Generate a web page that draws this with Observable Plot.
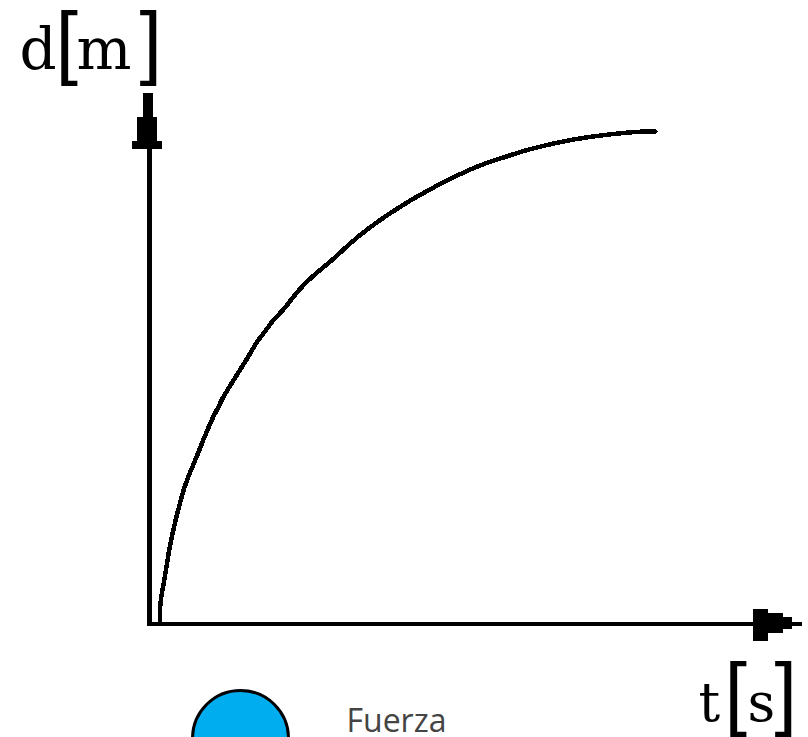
<!DOCTYPE html>
<html><head><meta charset="utf-8">
<style>html,body{margin:0;padding:0;background:#fff;overflow:hidden}svg{display:block}</style>
<script src="https://cdn.jsdelivr.net/npm/d3@7"></script>
<script src="https://cdn.jsdelivr.net/npm/@observablehq/plot@0.6"></script>
</head><body><div id="c"></div>
<script>
const curveT = [0.093,0.093,0.14,0.187,0.233,0.283,0.333,0.383,0.433,0.483,0.533,0.58,0.623,0.677,0.723,0.773,0.823,0.873,0.923,0.973,1.02,1.063,1.163,1.213,1.313,1.363,1.50,1.65,1.85,1.99,2.19,2.36,2.61,2.76,2.90,3.15,3.34,3.47,3.71,3.86,4.03,4.22,4.49,4.85,5.05];
const curveD = [0.01,0.21,0.43,0.75,0.96,1.16,1.35,1.48,1.60,1.72,1.85,1.96,2.06,2.16,2.26,2.34,2.42,2.50,2.58,2.66,2.74,2.82,2.94,3.02,3.12,3.18,3.36,3.50,3.66,3.80,3.96,4.08,4.24,4.32,4.40,4.52,4.60,4.64,4.72,4.76,4.80,4.84,4.88,4.92,4.92];
const curve = curveT.map((t,i)=>({t,d:curveD[i]}));

const upT1=[-0.07,-0.13,-0.18], upT2=[0.03,0.07,0.12], upD1=[5.06,4.82,4.74], upD2=[5.30,5.06,4.82];
const rightT1=[6.03,6.18,6.33], rightT2=[6.18,6.33,6.42], rightD1=[-0.18,-0.10,-0.06], rightD2=[0.14,0.10,0.06];
const blocks = [...upT1.map((v,i)=>({x1:v,x2:upT2[i],y1:upD1[i],y2:upD2[i]})),
                ...rightT1.map((v,i)=>({x1:v,x2:rightT2[i],y1:rightD1[i],y2:rightD2[i]}))];

const yChars=["d","m"], yCharT=[-1.31,-0.74], yCharD=[5.73,5.73];
const xChars=["t","s"], xCharT=[5.48,5.97], xCharD=[-0.80,-0.80];
const brackets=["[","]","[","]"], brT=[-0.95,-0.11,5.74,6.24], brD=[5.80,5.80,-0.71,-0.71];

const plot = Plot.plot({
  width:808, height:737, margin:0,
  x:{domain:[-1.5,6.58], range:[0,808], axis:null},
  y:{domain:[-1.14,6.23], range:[737,0], axis:null},
  marks:[
    Plot.ruleX([0],{y1:0,y2:5.3,dx:-1,stroke:"#000",strokeWidth:5,shapeRendering:"crispEdges"}),
    Plot.ruleY([0],{x1:-0.03,x2:6.52,stroke:"#000",strokeWidth:4,shapeRendering:"crispEdges"}),
    Plot.rect(blocks,{x1:"x1",x2:"x2",y1:"y1",y2:"y2",fill:"#000",inset:0,shapeRendering:"crispEdges"}),
    Plot.line(curve,{x:"t",y:"d",stroke:"#000",strokeWidth:4.5,curve:"basis",shapeRendering:"crispEdges"}),
    Plot.text(yChars,{x:(c,i)=>yCharT[i],y:(c,i)=>yCharD[i],text:c=>c,textAnchor:"start",lineAnchor:"middle",fontFamily:"DejaVu Serif",fontSize:58,fill:"#000"}),
    Plot.text(xChars,{x:(c,i)=>xCharT[i],y:(c,i)=>xCharD[i],text:c=>c,textAnchor:"start",lineAnchor:"middle",fontFamily:"DejaVu Serif",fontSize:54,fill:"#000"}),
    Plot.text(brackets,{x:(c,i)=>brT[i],y:(c,i)=>brD[i],text:c=>c,textAnchor:"start",lineAnchor:"middle",fontFamily:"Liberation Sans",fontSize:81,fill:"#000"}),
    Plot.dot([{t:0.9,d:-1.15}],{x:"t",y:"d",r:48,fill:"#00aeef",stroke:"#000",strokeWidth:3}),
    Plot.text(["Fuerza"],{x:1.96,y:-0.98,text:d=>d,textAnchor:"start",fontFamily:"Open Sans",fontSize:32,fill:"#444"})
  ]
});
document.getElementById("c").append(plot);
</script></body></html>
